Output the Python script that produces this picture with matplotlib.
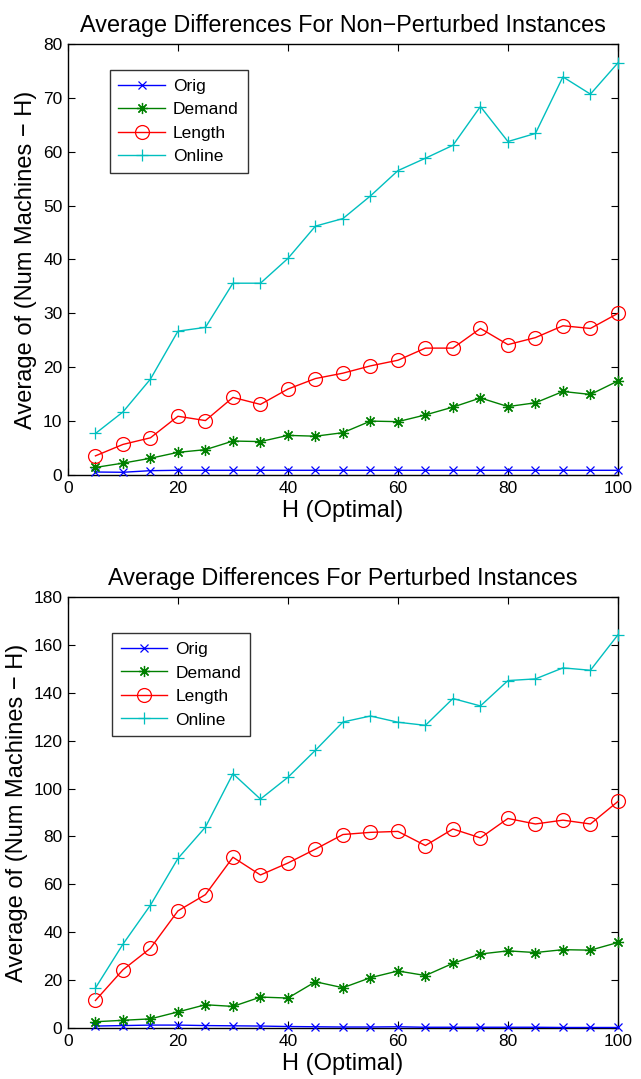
import numpy as np
import matplotlib
matplotlib.use('Agg')
import matplotlib.pyplot as plt

plt.rcParams['font.family'] = ['Liberation Sans', 'DejaVu Sans']

# Datos
h_vals = [5, 10, 15, 20, 25, 30, 35, 40, 45, 50, 55, 60, 65, 70, 75, 80, 85, 90, 95, 100]

orig_np = [0.55, 0.5, 0.8, 0.87, 0.87, 0.87, 0.87, 0.87, 0.87, 0.87,
           0.87, 0.87, 0.87, 0.87, 0.87, 0.87, 0.87, 0.87, 0.87, 0.87]
demand_np = [1.4, 2.2, 3.1, 4.2, 4.7, 6.3, 6.2, 7.35, 7.2, 7.85,
             10.0, 9.9, 11.15, 12.6, 14.3, 12.7, 13.4, 15.5, 14.95, 17.45]
length_np = [3.55, 5.67, 6.9, 10.9, 10.1, 14.4, 13.1, 15.95, 17.9, 18.9,
             20.25, 21.3, 23.55, 23.55, 27.2, 24.2, 25.5, 27.7, 27.2, 30.0]
online_np = [7.7, 11.7, 17.8, 26.7, 27.4, 35.6, 35.6, 40.2, 46.2, 47.6,
             51.8, 56.5, 58.8, 61.2, 68.4, 61.9, 63.4, 73.9, 70.7, 76.5]

orig_p = [0.8, 1.0, 1.2, 1.2, 1.0, 0.9, 0.8, 0.6, 0.5, 0.4,
          0.4, 0.5, 0.3, 0.3, 0.3, 0.3, 0.3, 0.2, 0.2, 0.2]
demand_p = [2.6, 3.2, 3.8, 6.7, 9.7, 9.0, 12.9, 12.5, 19.3, 16.8,
            21.0, 23.8, 21.9, 27.0, 30.9, 32.2, 31.5, 32.7, 32.5, 35.7]
length_p = [11.5, 24.3, 33.3, 48.9, 55.7, 71.3, 63.9, 68.9, 74.7, 80.8,
            81.7, 82.1, 76.2, 83.1, 79.4, 87.5, 85.2, 86.8, 85.2, 94.6]
online_p = [16.7, 35.0, 51.3, 70.8, 83.9, 106.2, 95.6, 104.7, 116.0, 127.8,
            130.3, 127.7, 126.4, 137.6, 134.5, 145.1, 145.8, 150.4, 149.4, 164.2]

series_names = ['Orig', 'Demand', 'Length', 'Online']
series_colors = ['#0000ff', '#008000', '#ff0000', '#00bfbf']
series_markers = ['x', (8, 2, 0), 'o', '+']
marker_sizes = [6, 8, 10, 9]

Y_LABEL = 'Average of (Num Machines \u2212 H)'
X_LABEL = 'H (Optimal)'


def draw_panel(ax, data, title, ymax, ystep, legend_anchor):
    for vals, name, color, mk, ms in zip(data, series_names, series_colors,
                                         series_markers, marker_sizes):
        ax.plot(h_vals, vals, color=color, marker=mk, markersize=ms,
                markerfacecolor='none', markeredgecolor=color,
                markeredgewidth=0.9, linewidth=1.0, label=name,
                clip_on=False, zorder=3)

    ax.set_xlim(0, 100)
    ax.set_ylim(0, ymax)
    ax.set_xticks(np.arange(0, 101, 20))
    ax.set_yticks(np.arange(0, ymax + 1, ystep))
    ax.tick_params(direction='in', top=True, right=True, labelsize=12.5,
                   length=5, width=0.8, pad=4)
    for sp in ax.spines.values():
        sp.set_linewidth(1.0)

    ax.set_title(title, fontsize=16.8, pad=9)
    ax.set_xlabel(X_LABEL, fontsize=17, labelpad=3)
    ax.set_ylabel(Y_LABEL, fontsize=17, labelpad=4)

    leg = ax.legend(loc='upper left', bbox_to_anchor=legend_anchor,
                    fontsize=12.5, frameon=True, fancybox=False,
                    edgecolor='black', handlelength=2.7, handletextpad=0.45,
                    borderpad=0.5, labelspacing=0.48, borderaxespad=0)
    leg.get_frame().set_linewidth(1.0)


fig = plt.figure(figsize=(6.41, 10.79), dpi=100)

ax_top = fig.add_axes([0.106, 0.5598, 0.858, 0.3994])
draw_panel(ax_top, [orig_np, demand_np, length_np, online_np],
           'Average Differences For Non\u2212Perturbed Instances',
           80, 10, (0.076, 0.9395))

ax_bot = fig.add_axes([0.106, 0.0473, 0.858, 0.3994])
draw_panel(ax_bot, [orig_p, demand_p, length_p, online_p],
           'Average Differences For Perturbed Instances',
           180, 20, (0.080, 0.916))

fig.savefig('out.png', dpi=100)
